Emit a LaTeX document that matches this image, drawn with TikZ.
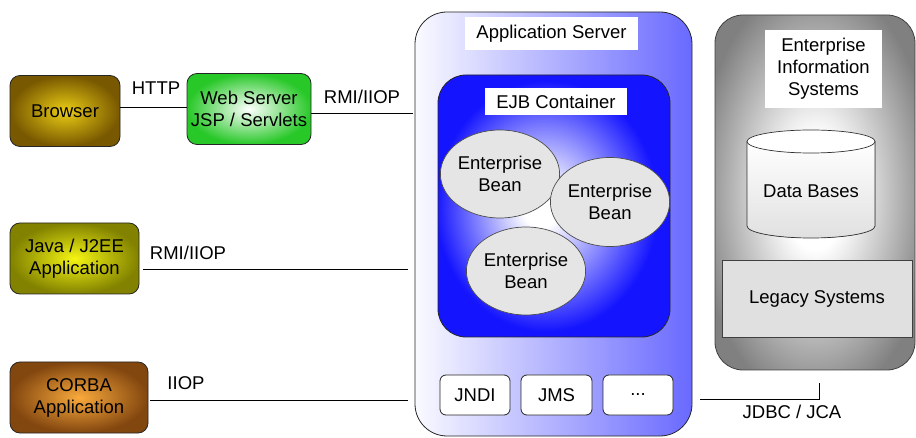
\documentclass[tikz,border=0pt]{standalone}
\usepackage{fontspec}
\setmainfont{Liberation Sans}
\usetikzlibrary{shapes.geometric}
\definecolor{ejbblue}{RGB}{20,20,255}
\definecolor{srvblue}{RGB}{105,105,255}
\pgfdeclareradialshading{ejbglow}{\pgfpoint{-3bp}{0bp}}{color(0bp)=(white); color(4bp)=(white); color(24bp)=(ejbblue); color(50bp)=(ejbblue)}
\pgfdeclareradialshading{eisglow}{\pgfpoint{0bp}{0bp}}{color(0bp)=(white); color(8bp)=(white); color(30bp)=(black!50); color(50bp)=(black!50)}
\begin{document}
\begin{tikzpicture}[x=1pt,y=-1pt,
  every node/.style={font=\fontsize{18.5}{22}\selectfont, align=center, inner sep=0pt},
  box/.style={draw=black!85, line width=0.8pt, rounded corners=10pt},
  client/.style={box, minimum height=71pt},
  lbl/.style={fill=white, text=black},
  bean/.style={ellipse, draw=black!70, line width=0.7pt, fill=black!10},
  svc/.style={draw=black!85, line width=0.8pt, rounded corners=6pt, fill=white, minimum width=70pt, minimum height=40pt},
  conn/.style={draw=black, line width=0.8pt}
]
\useasboundingbox (0,0) rectangle (916,438);

% client side
\node[client, minimum width=110pt, inner color={rgb,255:red,235;green,205;blue,20}, outer color={rgb,255:red,120;green,88;blue,0}] (browser) at (65,111) {Browser};
\node[client, minimum width=124pt, inner color=white, outer color={rgb,255:red,40;green,200;blue,40}] (web) at (249,109) {Web Server\\JSP / Servlets};
\node[client, minimum width=129pt, inner color={rgb,255:red,245;green,245;blue,20}, outer color={rgb,255:red,130;green,130;blue,0}] (java) at (74.5,258.5) {Java / J2EE\\Application};
\node[client, minimum width=138pt, inner color={rgb,255:red,250;green,170;blue,60}, outer color={rgb,255:red,130;green,70;blue,15}] (corba) at (79,397.5) {CORBA\\Application};

% application server
\node[draw=black!85, line width=0.8pt, rounded corners=32pt, minimum width=277pt, minimum height=424pt,
  left color={rgb,255:red,250;green,250;blue,255}, right color=srvblue] (appsrv) at (553.5,224) {};
\node[lbl, minimum width=173pt, minimum height=33pt] (appsrvlbl) at (551.5,33.5) {Application Server};

\node[draw=black!85, line width=0.8pt, rounded corners=28pt, minimum width=232pt, minimum height=262pt,
  shading=ejbglow] (ejb) at (554,206) {};
\node[lbl, minimum width=142pt, minimum height=27pt] (ejblbl) at (556,101.5) {EJB Container};

\node[bean, minimum width=103pt, minimum height=88pt] (bean1) at (500,174) {Enterprise\\Bean};
\node[bean, minimum width=104pt, minimum height=89pt] (bean2) at (610,202) {Enterprise\\Bean};
\node[bean, minimum width=104pt, minimum height=88pt] (bean3) at (526,271) {Enterprise\\Bean};

\node[svc] (jndi) at (475,395) {JNDI};
\node[svc, minimum width=71pt] (jms) at (556.5,395) {JMS};
\node[svc] (more) at (638,395) {...};

% EIS
\node[draw=black!75, line width=0.8pt, rounded corners=28pt, minimum width=200pt, minimum height=355pt,
  shading=eisglow] (eis) at (815,192.5) {};
\node[lbl, minimum width=117pt, minimum height=78pt] (eislbl) at (823.5,69) {Enterprise\\Information\\Systems};

\fill[top color=white, bottom color=black!12] (747,141.5) -- (747,226) arc[start angle=180,end angle=0,x radius=64,y radius=12] -- (875,141.5) arc[start angle=0,end angle=180,x radius=64,y radius=11.5] -- cycle;
\draw[black!80, line width=0.7pt] (747,141.5) -- (747,226) arc[start angle=180,end angle=0,x radius=64,y radius=12] -- (875,141.5);
\draw[black!80, line width=0.7pt, fill=white] (811,141.5) ellipse[x radius=64, y radius=11.5];
\node (db) at (811,191) {Data Bases};

\node[draw=black!75, line width=0.8pt, fill=black!12, minimum width=190pt, minimum height=77pt] (legacy) at (817,298.5) {Legacy Systems};

% connectors
\draw[conn] (browser.east |- 0,107) -- (web.west |- 0,107);
\draw[conn] (web.east |- 0,113) -- ([xshift=-2pt]appsrv.west |- 0,113);
\draw[conn] ([xshift=4pt]java.east |- 0,269) -- ([xshift=-7pt]appsrv.west |- 0,269);
\draw[conn] ([xshift=2pt]corba.east |- 0,400) -- ([xshift=-7pt]appsrv.west |- 0,400);
\coordinate (jdbctop) at (819,383);
\draw[conn] ([xshift=8pt]appsrv.east |- 0,399) -| (jdbctop);

% labels
\node (http) at (156,88) {HTTP};
\node (rmi1) at (362,97) {RMI/IIOP};
\node (rmi2) at (188,253) {RMI/IIOP};
\node (iiop) at (186,383) {IIOP};
\node (jdbc) at (792,412) {JDBC / JCA};
\end{tikzpicture}
\end{document}
